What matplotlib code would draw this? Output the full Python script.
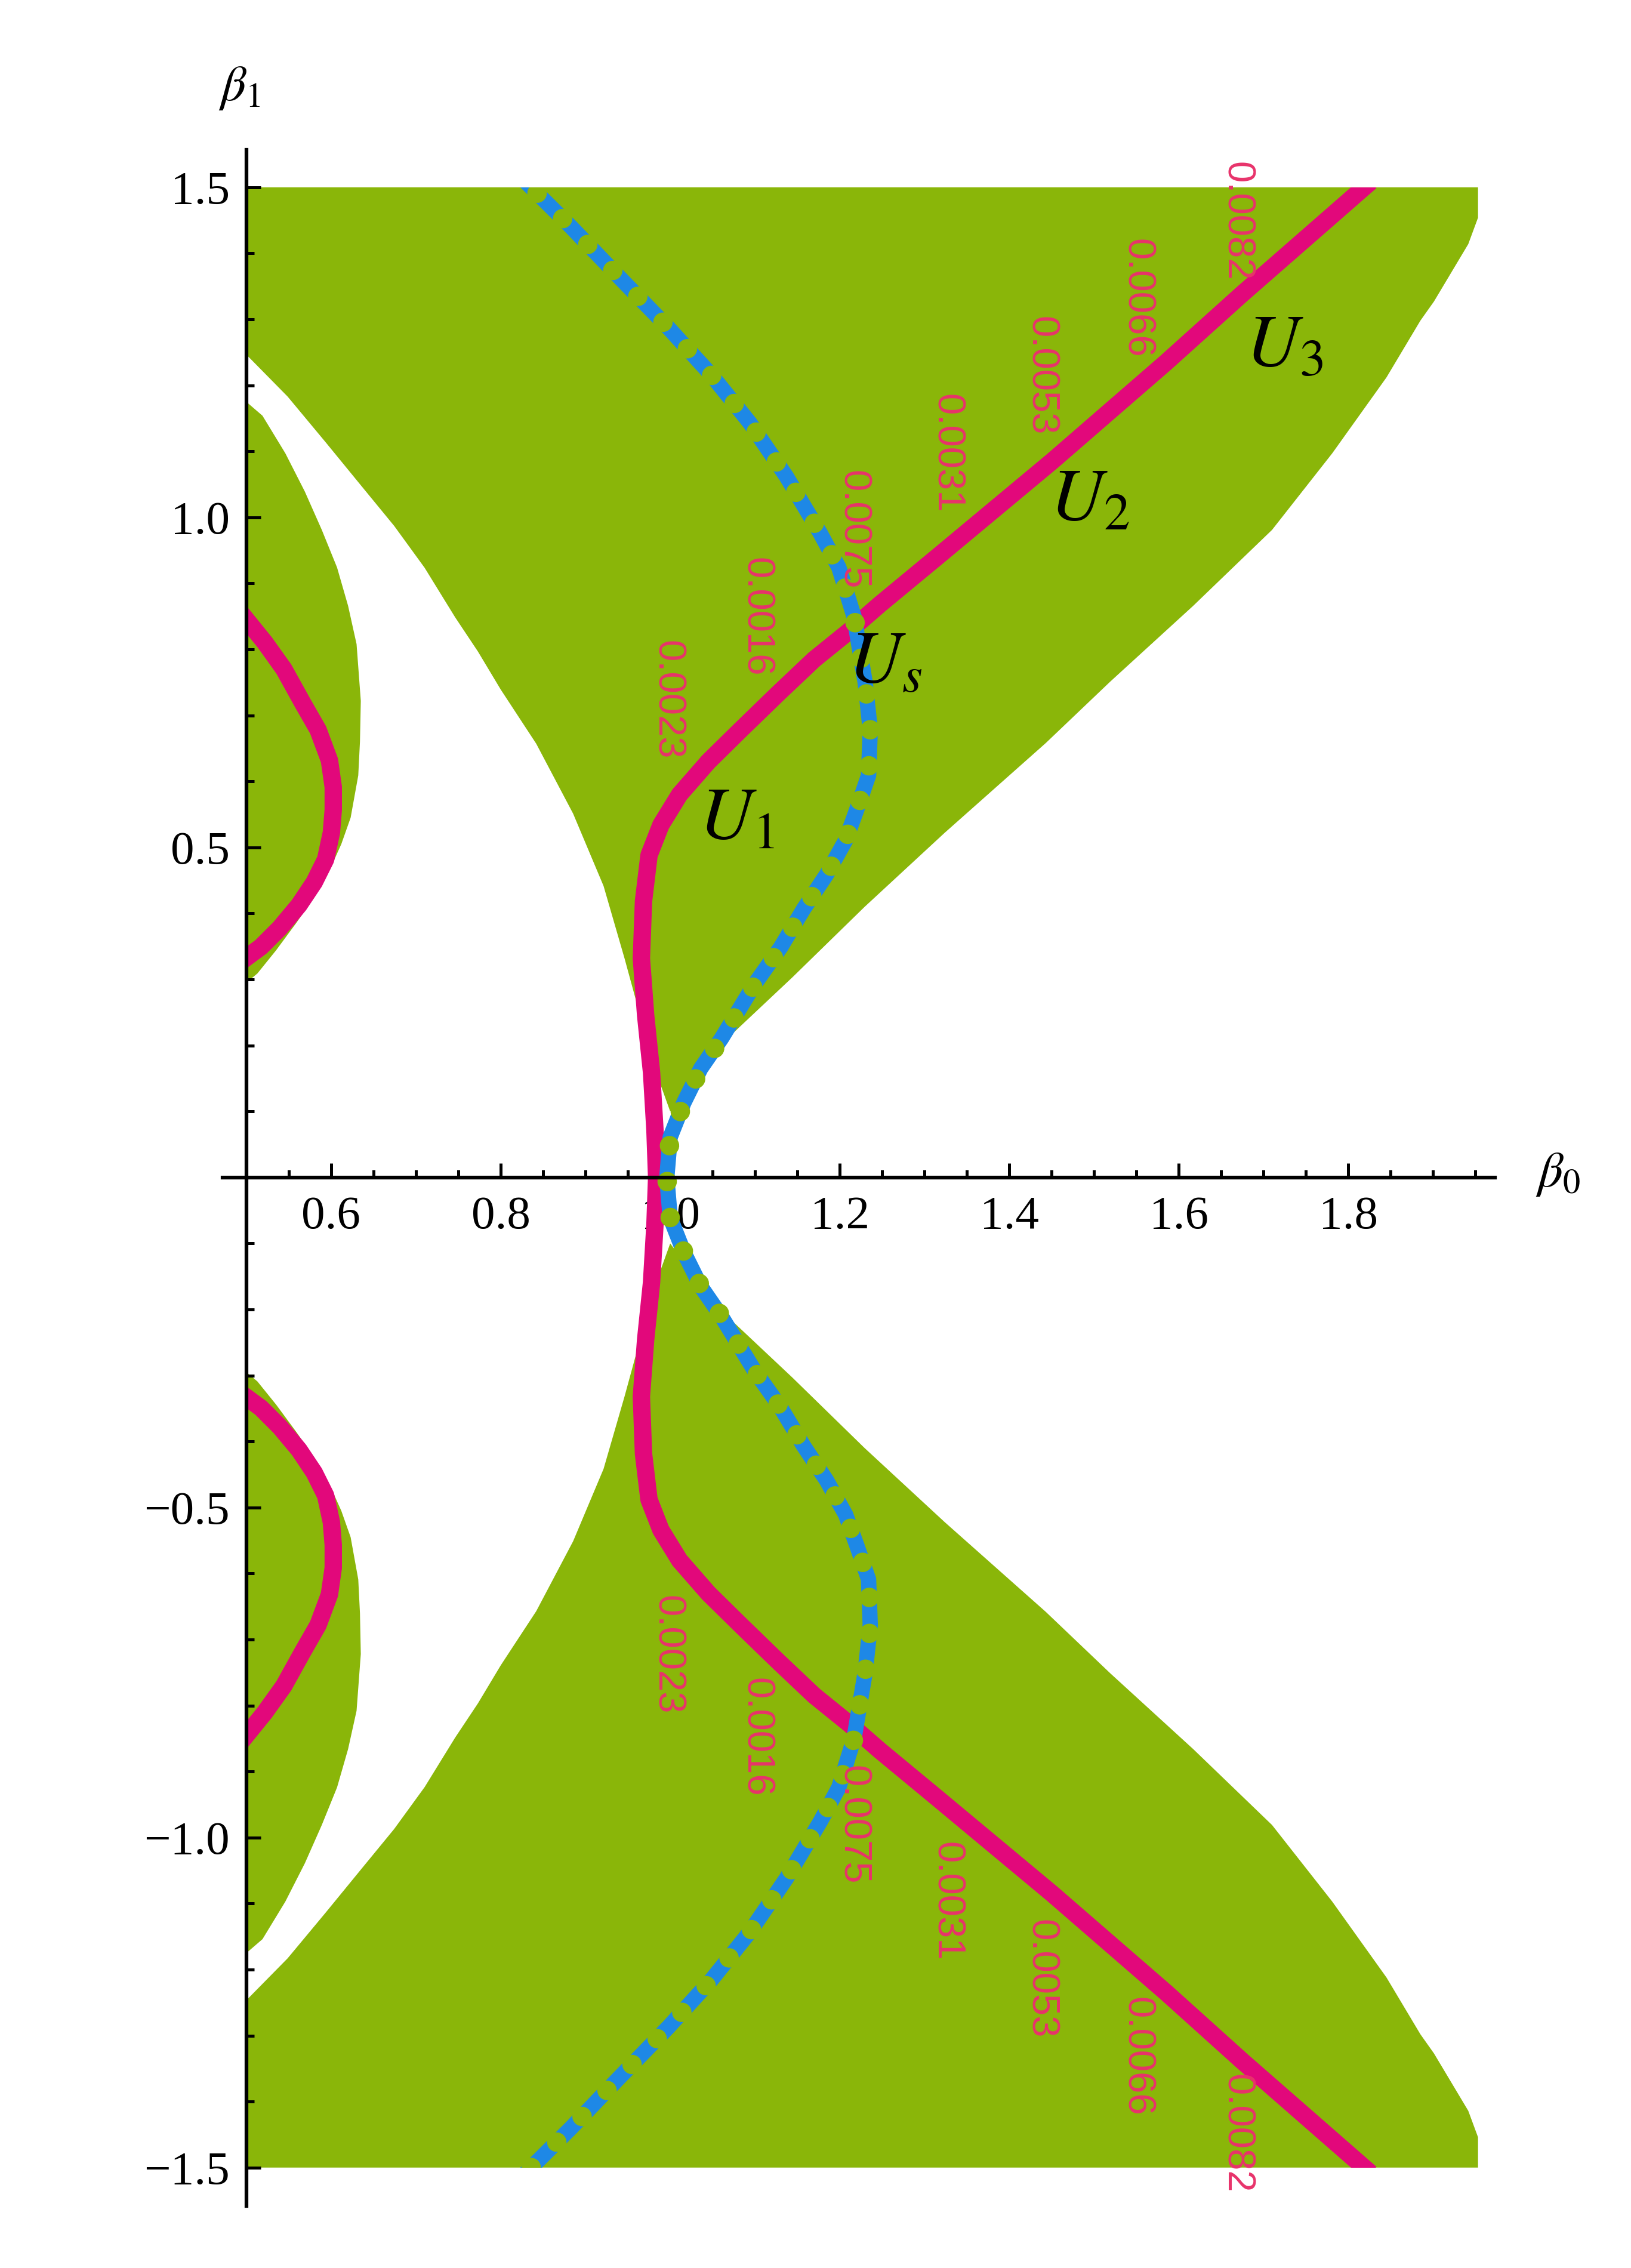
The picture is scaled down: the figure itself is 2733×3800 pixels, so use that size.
import matplotlib
matplotlib.use("Agg")
import matplotlib.pyplot as plt
from matplotlib.patches import Rectangle

plt.rcParams['font.family'] = ['Liberation Serif', 'DejaVu Serif']
plt.rcParams['mathtext.fontset'] = 'stix'

GREEN = '#8AB609'
RED = '#E2087B'
BLUE = '#1E88E6'
LABEL_RED = '#E8336B'

# ---------------- data (upper half; lower half is its mirror) -------------
# small left lobe of the admissible region
lobe_x = [0.5, 0.519, 0.546, 0.569, 0.589, 0.607, 0.620, 0.630, 0.635, 0.634, 0.632,
          0.623, 0.612, 0.598, 0.580, 0.558, 0.535, 0.513, 0.5]
lobe_y = [1.175, 1.154, 1.097, 1.039, 0.981, 0.924, 0.866, 0.808, 0.722, 0.660, 0.609,
          0.545, 0.505, 0.465, 0.424, 0.384, 0.344, 0.309, 0.295]

# main region: right boundary from the top-right corner down to the pinch
main_right_x = [1.953, 1.953, 1.9415, 1.901, 1.885, 1.845, 1.781, 1.710, 1.617, 1.519,
                1.443, 1.3237, 1.2294, 1.1441, 1.0677, 1.029, 1.0]
main_right_y = [1.5, 1.454, 1.414, 1.327, 1.298, 1.212, 1.097, 0.981, 0.866, 0.751,
                0.658, 0.522, 0.410, 0.3031, 0.2108, 0.150, 0.100]
# main region: left boundary from the pinch up to the beta1 axis
main_left_x = [0.9753, 0.9596, 0.9461, 0.9214, 0.8855, 0.842, 0.8001, 0.7732, 0.7463,
               0.7103, 0.6744, 0.6339, 0.5935, 0.5486, 0.5]
main_left_y = [0.188, 0.2685, 0.332, 0.4415, 0.5511, 0.657, 0.7391, 0.7967, 0.8486,
               0.9236, 0.987, 1.0504, 1.1138, 1.1831, 1.2465]

# red contour (U1 -> Us -> U2 -> U3), from the beta0 axis upward
red_x = [0.984, 0.982, 0.978, 0.971, 0.966, 0.9685, 0.975, 0.989, 1.011, 1.045, 1.083,
         1.128, 1.170, 1.2114, 1.2472, 1.3157, 1.4505, 1.5852, 1.675, 1.8187]
red_y = [0.0, 0.072, 0.159, 0.246, 0.332, 0.4185, 0.488, 0.534, 0.580, 0.630, 0.678,
         0.734, 0.785, 0.828, 0.868, 0.9408, 1.085, 1.235, 1.3388, 1.5]

# red contour inside the left lobe
red_lobe_x = [0.5, 0.5217, 0.5442, 0.5666, 0.5846, 0.598, 0.6025, 0.6025, 0.6003,
              0.5935, 0.5801, 0.5621, 0.5396, 0.5172, 0.5]
red_lobe_y = [0.845, 0.8106, 0.7702, 0.7183, 0.678, 0.6318, 0.5914, 0.5569, 0.5223,
              0.4819, 0.4473, 0.4127, 0.3781, 0.3493, 0.333]

# blue dotted curve, from the beta0 axis upward
blue_x = [0.996, 1.000, 1.016, 1.036, 1.0607, 1.0991, 1.1305, 1.1575, 1.1845, 1.207,
          1.220, 1.234, 1.236, 1.230, 1.217, 1.199, 1.177, 1.137, 1.094, 1.049, 0.998,
          0.939, 0.883, 0.836]
blue_y = [0.0, 0.061, 0.113, 0.165, 0.211, 0.292, 0.349, 0.407, 0.459, 0.511, 0.557,
          0.609, 0.678, 0.750, 0.849, 0.924, 0.976, 1.062, 1.143, 1.215, 1.287, 1.365,
          1.440, 1.500]

# contour value labels (upper half; mirrored for the lower half)
contour_values = ['0.0023', '0.0016', '0.0075', '0.0031', '0.0053', '0.0066', '0.0082']
contour_label_x = [0.9966, 1.1015, 1.2156, 1.3256, 1.4375, 1.5507, 1.668]
contour_label_y = [0.7236, 0.8486, 0.9812, 1.0971, 1.2142, 1.3318, 1.4485]

# point labels U_1, U_s, U_2, U_3
point_labels = [r'$U_{\mathit{1}}$', r'$U_{s}$', r'$U_{\mathit{2}}$', r'$U_{\mathit{3}}$']
point_x = [1.034, 1.210, 1.448, 1.679]
point_y = [0.513, 0.751, 0.996, 1.229]

# ticks
x_major = [0.6, 0.8, 1.0, 1.2, 1.4, 1.6, 1.8]
x_major_labels = ['0.6', '0.8', '1.0', '1.2', '1.4', '1.6', '1.8']
x_minor = [0.55, 0.65, 0.7, 0.75, 0.85, 0.9, 0.95, 1.05, 1.1, 1.15, 1.25, 1.3, 1.35,
           1.45, 1.5, 1.55, 1.65, 1.7, 1.75, 1.85, 1.9, 1.95]
y_major = [-1.5, -1.0, -0.5, 0.5, 1.0, 1.5]
y_major_labels = ['\u22121.5', '\u22121.0', '\u22120.5', '0.5', '1.0', '1.5']
y_minor = [-1.4, -1.3, -1.2, -1.1, -0.9, -0.8, -0.7, -0.6, -0.4, -0.3, -0.2, -0.1,
           0.1, 0.2, 0.3, 0.4, 0.6, 0.7, 0.8, 0.9, 1.1, 1.2, 1.3, 1.4]

# ---------------- figure -------------
fig = plt.figure(figsize=(27.33, 38), dpi=100)
ax = fig.add_axes([0.1365, 0.0274, 0.7801, 0.9066])
ax.set_xlim(0.472, 1.973)
ax.set_ylim(-1.558, 1.557)


def mirror(v):
    return [-a for a in v]


# green regions
for sgn in (1, -1):
    ly = lobe_y if sgn > 0 else mirror(lobe_y)
    ax.fill(lobe_x, ly, color=GREEN, lw=0, zorder=1)
    px = [0.5] + main_right_x + main_left_x
    py = [1.5] + main_right_y + main_left_y
    if sgn < 0:
        py = mirror(py)
    ax.fill(px, py, color=GREEN, lw=0, zorder=1)

clip = Rectangle((0.5, -1.5), 1.4535, 3.0, transform=ax.transData)

# red curves
full_red_x = red_x[::-1] + red_x[1:]
full_red_y = mirror(red_y)[::-1] + red_y[1:]
lines = []
lines += ax.plot(full_red_x, full_red_y, color=RED, lw=21, solid_capstyle='projecting',
                 solid_joinstyle='round', zorder=3)
lines += ax.plot(red_lobe_x, red_lobe_y, color=RED, lw=21, solid_capstyle='projecting',
                 solid_joinstyle='round', zorder=3)
lines += ax.plot(red_lobe_x, mirror(red_lobe_y), color=RED, lw=21,
                 solid_capstyle='projecting', solid_joinstyle='round', zorder=3)

# blue dotted curve
full_blue_x = blue_x[::-1] + blue_x[1:]
full_blue_y = mirror(blue_y)[::-1] + blue_y[1:]
lines += ax.plot(full_blue_x, full_blue_y, color=BLUE, lw=18.5, solid_capstyle='projecting',
                 solid_joinstyle='round', zorder=4)
lines += ax.plot(full_blue_x, full_blue_y, color=GREEN, lw=23.5,
                 linestyle=(0, (0.001, 1.85)), dash_capstyle='round', zorder=5)
for ln in lines:
    ln.set_clip_path(clip)

# contour labels
for sgn in (1, -1):
    for v, x, y in zip(contour_values, contour_label_x, contour_label_y):
        ax.text(x, sgn * y, v, rotation=-90, ha='center', va='center',
                fontfamily='Liberation Sans', fontsize=47,
                color=LABEL_RED, zorder=7)

# point labels
for s, x, y in zip(point_labels, point_x, point_y):
    ax.text(x, y, s, fontsize=90, ha='left', va='baseline', color='black', zorder=8)

# axes styling (Mathematica-like crossing axes)
for side in ('top', 'right'):
    ax.spines[side].set_visible(False)
ax.spines['left'].set_position(('data', 0.5))
ax.spines['bottom'].set_position(('data', 0.0))
for side in ('left', 'bottom'):
    ax.spines[side].set_linewidth(4.5)
    ax.spines[side].set_zorder(9)

ax.set_xticks(x_major)
ax.set_xticklabels(x_major_labels)
ax.set_xticks(x_minor, minor=True)
ax.set_yticks(y_major)
ax.set_yticklabels(y_major_labels)
ax.set_yticks(y_minor, minor=True)
ax.tick_params(which='major', direction='in', length=17, width=3.6, labelsize=57)
ax.tick_params(which='minor', direction='in', length=9.5, width=3.6)
ax.tick_params(axis='x', which='major', pad=22)
ax.tick_params(axis='y', which='major', pad=20)
ax.patch.set_alpha(0)

ax.text(0.492, 1.650, r'$\beta_1$', fontsize=60, ha='center', va='center')
ax.text(2.047, 0.0045, r'$\beta_0$', fontsize=60, ha='center', va='center')

fig.savefig('out.png', dpi=100, facecolor='white')
